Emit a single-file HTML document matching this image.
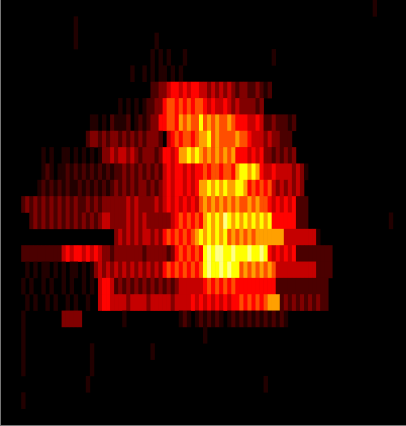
<!DOCTYPE html>
<html><head><meta charset="utf-8"><style>
html,body{margin:0;padding:0;background:#000;width:406px;height:426px;overflow:hidden}
svg{display:block}
</style></head><body>
<svg id="chart" width="406" height="426" viewBox="0 0 406 426">
<rect x="0" y="0" width="406" height="426" fill="#000"/>
<g id="cells"></g>
<line x1="0.5" y1="0" x2="0.5" y2="426" stroke="#777" stroke-width="1"/>
<line x1="0" y1="425.5" x2="406" y2="425.5" stroke="#777" stroke-width="1"/>
</svg>
<script>
const Z="0000000000";
const rowLevels=[
Z+Z+Z+Z+Z+Z+Z+Z+Z+"0010000000",
Z+"0000000010"+Z+Z+Z+Z+Z+Z+Z+Z,
Z+"0000000010"+Z+"0000000010"+Z+Z+Z+Z+Z+Z,
Z+Z+Z+"0000000101"+"0100010000"+Z+"0000000100"+Z+Z+Z,
Z+Z+Z+"0010010101"+"1010100000"+Z+Z+Z+Z+Z,
Z+Z+Z+"0000000223"+"3455454554"+"4343434323"+"3223212000"+Z+Z+Z,
Z+Z+"0000000001"+"0101012233"+"5665656566"+"5454454343"+"3332300000"+Z+Z+Z,
Z+Z+"0011010211"+"1201212335"+"5665767668"+"6767667655"+"5445422322"+"2120000000"+Z+Z,
Z+Z+"0233232332"+"3232323332"+"0456566567"+"7867666676"+"6544434332"+"2200000000"+Z+Z,
Z+"1010011010"+"1010133434"+"4343233323"+"5545778787"+"6767676755"+"5454533232"+"3230000000"+Z+Z,
Z+"1210112121"+"2121212122"+"3232323232"+"4545545455"+"6566566578"+"8787544544"+"4434310000"+Z+Z,
"0000000001"+"2121212112"+"1212121232"+"3232332323"+"4545545457"+"7878787788"+"7565656434"+"3434300000"+Z+Z,
"0000023232"+"3232323232"+"2323233333"+"3434333343"+"4545454546"+"7676767676"+"6767665454"+"5452220000"+Z+Z,
"0000000232"+"3232323232"+"3232344333"+"3434343333"+"3345656565"+"7878798787"+"8787878555"+"5552220000"+Z+"0000001000",
Z+Z+"0000000034"+"3434344343"+"5656565678"+"7878786767"+"6767777777"+"4444444410"+Z+Z,
"0000022222"+"2222245455"+"4545433233"+"3333323333"+"3235656565"+"8989988988"+"8988985454"+"5452222222"+"2200000000"+Z,
"0000001010"+"1101010110"+"1013434343"+"4343434343"+"5656565656"+"8988989886"+"7676767644"+"4444444422"+"2200000000"+Z,
"0000010100"+"1010010100"+"1010455423"+"2323232323"+"2323444444"+"5656565655"+"5555555522"+"2222222222"+"2000000000"+Z,
"0000001010"+"0101001010"+"0100455444"+"4344443444"+"4434444545"+"4545454556"+"5656567772"+"3232323232"+"2000000000"+Z,
"0000010000"+"0000033333"+Z+"1000000000"+"0000121012"+"1212101212"+"1212121212"+"1000000000"+Z+Z,
"0000010000"+Z+Z+Z+Z+"1000000000"+Z+Z+Z+Z,
"0000010000"+Z+"0010000000"+"0000000100"+Z+Z+Z+Z+Z+Z,
"0000010000"+Z+"0010000000"+Z+Z+Z+Z+Z+Z+Z,
Z+Z+"0100000000"+Z+Z+Z+"0000010000"+Z+Z+Z,
"0000010000"+Z+Z+Z+Z+Z+Z+Z+Z+Z,
Z+Z+Z+Z+Z+Z+Z+Z+Z+Z
];
const levelValues=[0,0.05,0.11,0.19,0.29,0.38,0.49,0.61,0.75,0.88];

const W=406,H=426,nCols=100,nRows=rowLevels.length;
const xScale=c=>1+c*(W-2)/nCols;
const yScale=r=>r*(H-1)/nRows;
function hot(v){
  const r=Math.min(1,v/0.375),g=Math.max(0,Math.min(1,(v-0.375)/0.375)),b=Math.max(0,Math.min(1,(v-0.75)/0.25));
  return `rgb(${Math.round(r*255)},${Math.round(g*255)},${Math.round(b*255)})`;
}
const g=document.getElementById('cells');
const NS='http://www.w3.org/2000/svg';
const cw=(W-2)/nCols,rh=(H-1)/nRows;
rowLevels.forEach((row,r)=>{
  for(let c=0;c<nCols;c++){
    const lv=+row[c]||0;
    if(!lv) continue;
    const el=document.createElementNS(NS,'rect');
    
    
    el.setAttribute('x',xScale(c));
    el.setAttribute('y',yScale(r));
    el.setAttribute('width',cw+0.3);
    el.setAttribute('height',rh+0.3);
    el.setAttribute('fill',hot(levelValues[lv]));
    g.appendChild(el);
  }
});
</script>
</body></html>
